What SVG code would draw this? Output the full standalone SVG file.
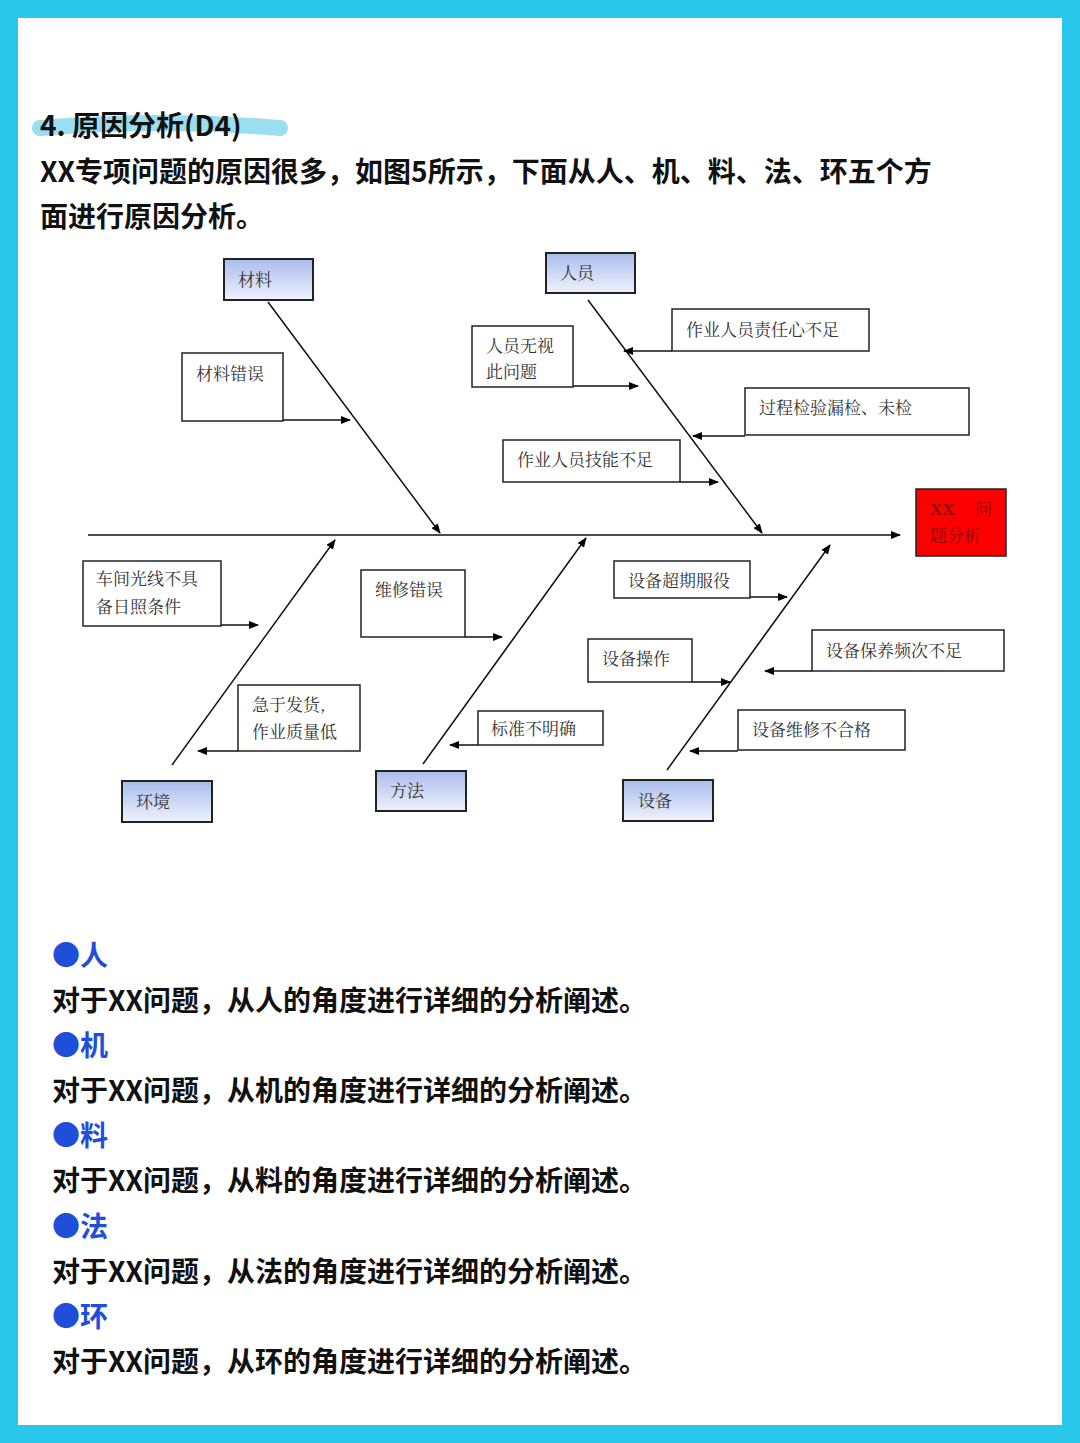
<svg xmlns="http://www.w3.org/2000/svg" width="1080" height="1443" viewBox="0 0 1080 1443">
<defs>
<linearGradient id="g" x1="0" y1="0" x2="0" y2="1"><stop offset="0" stop-color="#a9bdec"/><stop offset="1" stop-color="#eef2fc"/></linearGradient>
<marker id="a" markerWidth="10" markerHeight="8" refX="9" refY="4" orient="auto" markerUnits="userSpaceOnUse"><path d="M0,0 L10,4 L0,8 Z" fill="#000"/></marker>
</defs>
<style>
.h{font-family:"Noto Sans CJK SC",sans-serif;font-weight:bold;fill:#111}
.c{fill:url(#g);stroke:#222;stroke-width:2}
.b{fill:#fff;stroke:#222;stroke-width:1.5}
.t{font-family:"Noto Serif CJK SC","Noto Sans CJK SC",serif;font-size:17px;fill:#333}
.l{stroke:#111;stroke-width:1.5;fill:none;marker-end:url(#a)}
.s{font-family:"Noto Sans CJK SC",sans-serif;font-weight:bold;font-size:28px;fill:#111}
.k{font-family:"Noto Sans CJK SC",sans-serif;font-weight:bold;font-size:28px;fill:#1f4fd8}
</style>
<rect width="1080" height="1443" fill="#29c8ea"/>
<rect x="18" y="18" width="1044" height="1407" fill="#fff"/>
<path d="M40,128 Q160,118 280,128" stroke="#7fd6ee" stroke-width="16" stroke-linecap="round" fill="none" opacity="0.8"/>
<text class="h" x="40" y="136" font-size="28">4.  原因分析(D4)</text>
<text class="h" x="40" y="182" font-size="28">XX专项问题的原因很多，如图5所示，下面从人、机、料、法、环五个方</text>
<text class="h" x="40" y="227" font-size="28">面进行原因分析。</text>
<g id="connectors">
<line class="l" x1="88" y1="535" x2="900" y2="535"/>
<line class="l" x1="268" y1="302" x2="440" y2="533"/>
<line class="l" x1="283" y1="420" x2="350" y2="420"/>
<line class="l" x1="588" y1="300" x2="762" y2="533"/>
<line class="l" x1="672" y1="351" x2="624" y2="351"/>
<line class="l" x1="573" y1="386" x2="638" y2="386"/>
<line class="l" x1="745" y1="436" x2="693" y2="436"/>
<line class="l" x1="680" y1="482" x2="718" y2="482"/>
<line class="l" x1="172" y1="765" x2="335" y2="540"/>
<line class="l" x1="221" y1="625" x2="258" y2="625"/>
<line class="l" x1="238" y1="751" x2="198" y2="751"/>
<line class="l" x1="423" y1="764" x2="586" y2="538"/>
<line class="l" x1="465" y1="637" x2="502" y2="637"/>
<line class="l" x1="478" y1="745" x2="450" y2="745"/>
<line class="l" x1="667" y1="770" x2="830" y2="545"/>
<line class="l" x1="750" y1="597" x2="787" y2="597"/>
<line class="l" x1="692" y1="682" x2="730" y2="682"/>
<line class="l" x1="812" y1="671" x2="765" y2="671"/>
<line class="l" x1="738" y1="751" x2="690" y2="751"/>
</g>
<g id="n1"><rect class="c" x="224" y="259" width="89" height="41"/><text class="t" x="238" y="286">材料</text></g>
<g id="n2"><rect class="b" x="182" y="353" width="101" height="68"/><text class="t" x="196" y="380">材料错误</text></g>
<g id="n3"><rect class="c" x="546" y="253" width="89" height="40"/><text class="t" x="560" y="279">人员</text></g>
<g id="n4"><rect class="b" x="672" y="309" width="197" height="42"/><text class="t" x="686" y="336">作业人员责任心不足</text></g>
<g id="n5"><rect class="b" x="472" y="326" width="101" height="61"/><text class="t" x="486" y="352">人员无视</text><text class="t" x="486" y="378">此问题</text></g>
<g id="n6"><rect class="b" x="745" y="388" width="224" height="47"/><text class="t" x="759" y="414">过程检验漏检、未检</text></g>
<g id="n7"><rect class="b" x="503" y="440" width="177" height="42"/><text class="t" x="517" y="466">作业人员技能不足</text></g>
<g id="n8"><rect x="916" y="489" width="90" height="67" fill="#ff0000" stroke="#222" stroke-width="1.5"/><text x="930" y="515" font-family="Liberation Serif,serif" font-weight="bold" font-size="17" fill="#8a0000">XX</text><text class="t" x="975" y="515" fill="#8a0000" style="fill:#8a0000">问</text><text class="t" x="930" y="542" style="fill:#8a0000">题分析</text></g>
<g id="n9"><rect class="c" x="122" y="781" width="90" height="41"/><text class="t" x="136" y="808">环境</text></g>
<g id="n10"><rect class="b" x="83" y="561" width="138" height="65"/><text class="t" x="96" y="585">车间光线不具</text><text class="t" x="96" y="613">备日照条件</text></g>
<g id="n11"><rect class="b" x="238" y="685" width="122" height="66"/><text class="t" x="252" y="711">急于发货,</text><text class="t" x="252" y="738">作业质量低</text></g>
<g id="n12"><rect class="c" x="376" y="771" width="90" height="40"/><text class="t" x="390" y="797">方法</text></g>
<g id="n13"><rect class="b" x="361" y="570" width="104" height="67"/><text class="t" x="375" y="596">维修错误</text></g>
<g id="n14"><rect class="b" x="478" y="711" width="125" height="34"/><text class="t" x="491" y="735">标准不明确</text></g>
<g id="n15"><rect class="c" x="623" y="780" width="90" height="41"/><text class="t" x="638" y="807">设备</text></g>
<g id="n16"><rect class="b" x="614" y="561" width="136" height="37"/><text class="t" x="628" y="587">设备超期服役</text></g>
<g id="n17"><rect class="b" x="588" y="639" width="104" height="43"/><text class="t" x="602" y="665">设备操作</text></g>
<g id="n18"><rect class="b" x="812" y="630" width="192" height="41"/><text class="t" x="826" y="657">设备保养频次不足</text></g>
<g id="n19"><rect class="b" x="738" y="710" width="167" height="40"/><text class="t" x="752" y="736">设备维修不合格</text></g>
<text class="k" x="52" y="966">●人</text>
<text class="s" x="52" y="1011">对于XX问题，从人的角度进行详细的分析阐述。</text>
<text class="k" x="52" y="1056">●机</text>
<text class="s" x="52" y="1101">对于XX问题，从机的角度进行详细的分析阐述。</text>
<text class="k" x="52" y="1146">●料</text>
<text class="s" x="52" y="1191">对于XX问题，从料的角度进行详细的分析阐述。</text>
<text class="k" x="52" y="1237">●法</text>
<text class="s" x="52" y="1282">对于XX问题，从法的角度进行详细的分析阐述。</text>
<text class="k" x="52" y="1327">●环</text>
<text class="s" x="52" y="1372">对于XX问题，从环的角度进行详细的分析阐述。</text>
</svg>
